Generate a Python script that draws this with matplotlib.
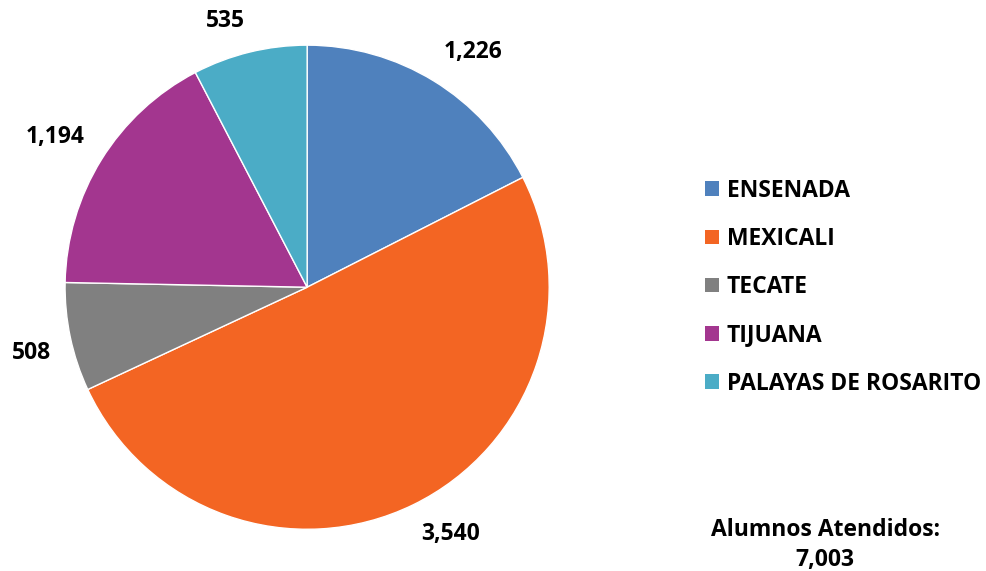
import matplotlib
matplotlib.use("Agg")
import matplotlib.pyplot as plt
import numpy as np

categories = ["ENSENADA", "MEXICALI", "TECATE", "TIJUANA", "PALAYAS DE ROSARITO"]
values = [1226, 3540, 508, 1194, 535]
value_labels = ["1,226", "3,540", "508", "1,194", "535"]
colors = ["#4F81BD", "#F36523", "#808080", "#A3368F", "#4BACC6"]
total_label = "Alumnos Atendidos:\n7,003"

plt.rcParams['font.family'] = ['Open Sans', 'DejaVu Sans']
plt.rcParams['font.weight'] = 'bold'

FS = 16.5
fig = plt.figure(figsize=(9.86, 5.71), dpi=100)
ax = fig.add_axes([0.066, 0.073, 0.491, 0.848])
wedges, _ = ax.pie(values, colors=colors, startangle=90,
                   counterclock=False,
                   wedgeprops=dict(edgecolor='white', linewidth=1.0))
# outside-end data labels (box corner touching a ring just outside the pie)
R = 1.08
for w, lab in zip(wedges, value_labels):
    ang = np.deg2rad((w.theta1 + w.theta2) / 2.0)
    x, y = R * np.cos(ang), R * np.sin(ang)
    ha = 'left' if x > 0 else 'right'
    va = 'bottom' if y > 0 else 'top'
    ax.text(x, y, lab, ha=ha, va=va, fontsize=FS, fontweight='bold', color='black')
ax.set_xlim(-1, 1)
ax.set_ylim(-1, 1)
ax.set_aspect('equal')

leg = fig.legend(wedges, categories, loc='center left', bbox_to_anchor=(0.715, 0.497),
                 frameon=False, handlelength=0.6, handleheight=0.6, handletextpad=0.35,
                 labelspacing=1.06, borderpad=0, borderaxespad=0,
                 prop=dict(size=FS, weight='bold'))
for h in leg.legend_handles:
    h.set_edgecolor('none')

fig.text(0.837, 0.0455, total_label, ha='center', va='center', fontsize=FS,
         fontweight='bold', linespacing=1.35)

fig.savefig("out.png", dpi=100)
